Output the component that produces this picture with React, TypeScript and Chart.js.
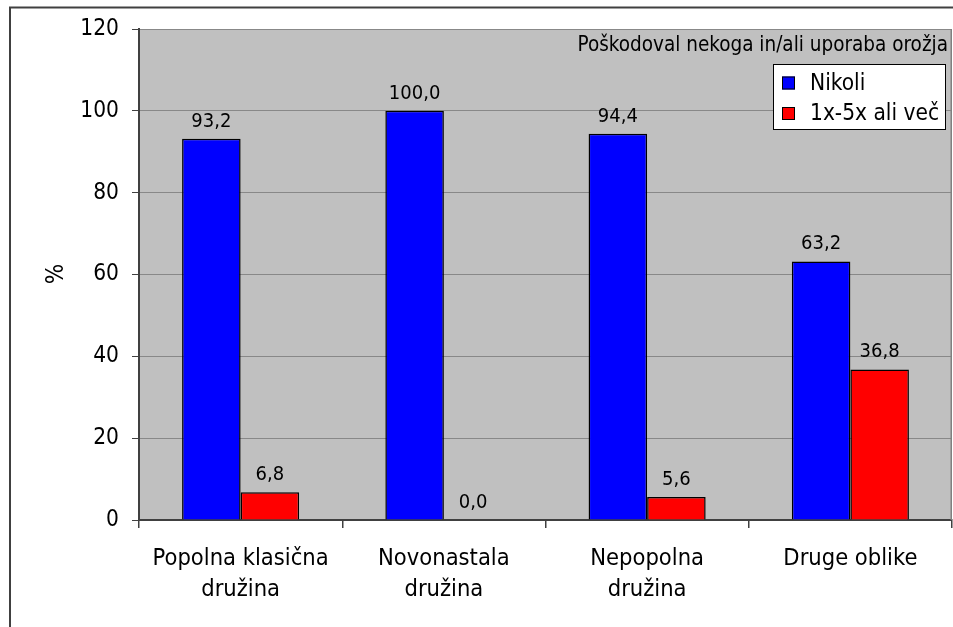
import React, { useEffect, useRef } from 'react';
import { Chart, registerables } from 'chart.js';

Chart.register(...registerables);

const categories: (string | string[])[] = [
  ['Popolna klasična', 'družina'],
  ['Novonastala', 'družina'],
  ['Nepopolna', 'družina'],
  'Druge oblike',
];
const seriesNames = ['Nikoli', '1x-5x ali več'];
const nikoliValues = [93.2, 100.0, 94.4, 63.2];
const vecValues = [6.8, 0.0, 5.6, 36.8];
const yTickMin = 0;
const yTickMax = 120;
const yTickStep = 20;
const chartTitle = 'Poškodoval nekoga in/ali uporaba orožja';
const yAxisTitle = '%';

const FONT = '"DejaVu Sans Condensed", "DejaVu Sans", sans-serif';
const COLORS = ['#0000FF', '#FF0000'];

const decorPlugin = {
  id: 'decor',
  beforeDraw(chart: any) {
    const { ctx, chartArea, width, height } = chart;
    ctx.save();
    ctx.fillStyle = '#FFFFFF';
    ctx.fillRect(0, 0, width, height);
    // outer border
    ctx.strokeStyle = '#404040';
    ctx.lineWidth = 2;
    ctx.beginPath();
    ctx.moveTo(10, height + 5);
    ctx.lineTo(10, 7.5);
    ctx.lineTo(width + 5, 7.5);
    ctx.stroke();
    // plot background
    ctx.fillStyle = '#C0C0C0';
    ctx.fillRect(chartArea.left, chartArea.top, chartArea.right - chartArea.left, chartArea.bottom - chartArea.top);
    ctx.restore();
  },
  afterDraw(chart: any) {
    const { ctx, chartArea } = chart;
    ctx.save();
    // right border of plot area
    ctx.strokeStyle = '#808080';
    ctx.lineWidth = 1.5;
    ctx.beginPath();
    ctx.moveTo(chartArea.right - 0.75, chartArea.top);
    ctx.lineTo(chartArea.right - 0.75, chartArea.bottom);
    ctx.stroke();

    // data labels
    ctx.fillStyle = '#000000';
    ctx.font = `20px ${FONT}`;
    ctx.textAlign = 'center';
    ctx.textBaseline = 'alphabetic';
    chart.data.datasets.forEach((ds: any, di: number) => {
      const meta = chart.getDatasetMeta(di);
      meta.data.forEach((bar: any, i: number) => {
        const v = ds.data[i] as number;
        const txt = v.toFixed(1).replace('.', ',');
        ctx.fillText(txt, bar.x, bar.y - 12);
      });
    });

    // title
    ctx.font = `20.5px ${FONT}`;
    ctx.textAlign = 'right';
    ctx.textBaseline = 'middle';
    ctx.fillText(chartTitle, 948, 46);

    // legend
    const lx = 773, ly = 64, lw = 172, lh = 65;
    ctx.fillStyle = '#FFFFFF';
    ctx.fillRect(lx, ly, lw, lh);
    ctx.strokeStyle = '#000000';
    ctx.lineWidth = 1;
    ctx.strokeRect(lx + 0.5, ly + 0.5, lw, lh);
    const rowY = [83, 113.5];
    seriesNames.forEach((name, i) => {
      ctx.fillStyle = COLORS[i];
      ctx.fillRect(782, rowY[i] - 6.5, 13, 13);
      ctx.strokeStyle = '#000000';
      ctx.strokeRect(782.5, rowY[i] - 6, 12, 12);
      ctx.fillStyle = '#000000';
      ctx.font = `22.5px ${FONT}`;
      ctx.textAlign = 'left';
      ctx.textBaseline = 'middle';
      ctx.fillText(name, 810, rowY[i] + 1);
    });

    // y axis title
    ctx.save();
    ctx.translate(57, 274);
    ctx.rotate(-Math.PI / 2);
    ctx.font = `24px ${FONT}`;
    ctx.textAlign = 'center';
    ctx.textBaseline = 'middle';
    ctx.fillStyle = '#000000';
    ctx.fillText(yAxisTitle, 0, 0);
    ctx.restore();

    ctx.restore();
  },
};

export default function App() {
  const canvasRef = useRef<HTMLCanvasElement | null>(null);

  useEffect(() => {
    const canvas = canvasRef.current;
    if (!canvas) return;
    const chart = new Chart(canvas, {
      type: 'bar',
      data: {
        labels: categories,
        datasets: [
          {
            label: seriesNames[0],
            data: nikoliValues,
            backgroundColor: COLORS[0],
            borderColor: '#000000',
            borderWidth: 1.5,
            categoryPercentage: 0.576,
            barPercentage: 1,
          },
          {
            label: seriesNames[1],
            data: vecValues,
            backgroundColor: COLORS[1],
            borderColor: '#000000',
            borderWidth: 1.5,
            categoryPercentage: 0.576,
            barPercentage: 1,
          },
        ],
      },
      options: {
        responsive: false,
        animation: false,
        devicePixelRatio: 1,
        layout: { padding: { left: 0, top: 29, right: 1, bottom: 0 } },
        plugins: {
          legend: { display: false },
          title: { display: false },
          tooltip: { enabled: false },
        },
        scales: {
          x: {
            offset: true,
            grid: {
              offset: true,
              drawOnChartArea: false,
              drawTicks: true,
              tickLength: 8,
              tickColor: '#404040',
              lineWidth: 1.5,
            },
            border: { color: '#404040', width: 2 },
            ticks: {
              color: '#000000',
              font: { family: FONT, size: 23.5, lineHeight: 1.32 },
              padding: 15,
              maxRotation: 0,
              autoSkip: false,
            },
            afterFit(scale: any) {
              scale.height = 107;
            },
          },
          y: {
            min: yTickMin,
            max: yTickMax,
            grid: {
              color: '#888888',
              lineWidth: 1,
              tickLength: 7,
              tickColor: '#404040',
            },
            border: { color: '#404040', width: 2 },
            ticks: {
              stepSize: yTickStep,
              color: '#000000',
              font: { family: FONT, size: 22.5 },
              padding: 13,
            },
            afterFit(scale: any) {
              scale.width = 139;
            },
          },
        },
      },
      plugins: [decorPlugin],
    });
    return () => chart.destroy();
  }, []);

  return (
    <div style={{ position: 'fixed', left: 0, top: 0, width: 953, height: 627 }}>
      <canvas ref={canvasRef} width={953} height={627} style={{ display: 'block' }} />
    </div>
  );
}
